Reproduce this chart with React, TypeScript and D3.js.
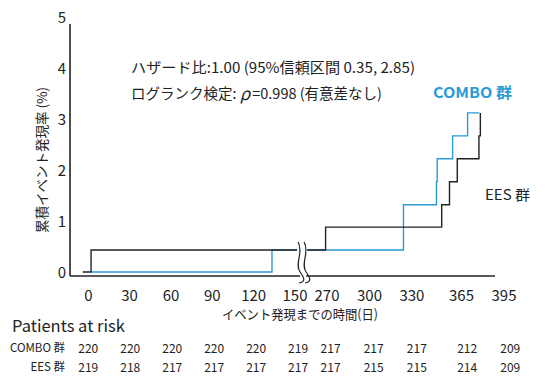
import React from "react";
import * as d3 from "d3";

// ---- data ----
const yTicks = [0, 1, 2, 3, 4, 5];
const leftTicks = [0, 30, 60, 90, 120, 150];
const rightTicks = [270, 300, 330, 365, 395];
const riskDays = [0, 30, 60, 90, 120, 150, 270, 300, 330, 365, 395];
const comboRisk = [220, 220, 220, 220, 220, 219, 217, 217, 217, 212, 209];
const eesRisk = [219, 218, 217, 217, 217, 217, 217, 215, 215, 214, 209];

// cumulative event rate (%) step data: [day, value]
const eesCurve: [number, number][] = [
  [-4, 0], [2, 0.43], [269, 0.88], [351, 1.32], [356.5, 1.77], [362, 2.22], [377.3, 2.67], [378.3, 3.12],
];
const eesEnd = 378.3;
const comboCurve: [number, number][] = [
  [2, 0], [133.3, 0.43], [324, 1.32], [347.3, 1.77], [347.8, 2.22], [358.7, 2.67], [369.3, 3.12],
];
const comboEnd = 377.6;

const BLUE = "#2a9bd5";
const FONT = "'Noto Sans CJK JP', 'Noto Sans', sans-serif";

export default function App() {
  const y = d3.scaleLinear().domain([0, 5]).range([272, 17]);
  const xl = d3.scaleLinear().domain([0, 150]).range([88.3, 295]);
  const xr = d3.scaleLinear().domain([270, 395]).range([327, 504]);
  const breakLeft = 151.5;
  const breakRight = 256;
  const x = (t: number) => (t <= 200 ? xl(t) : xr(t));

  const stepPath = (curve: [number, number][], end: number) => {
    const pts: [number, number][] = [];
    for (let i = 0; i < curve.length; i++) {
      const [t, v] = curve[i];
      if (i > 0) pts.push([t, curve[i - 1][1]]);
      pts.push([t, v]);
    }
    pts.push([end, curve[curve.length - 1][1]]);
    const left: [number, number][] = [];
    const right: [number, number][] = [];
    for (let i = 0; i < pts.length; i++) {
      const [t, v] = pts[i];
      if (t <= breakLeft) left.push([t, v]);
      if (i > 0) {
        const [pt, pv] = pts[i - 1];
        if (pt <= breakLeft && t > breakLeft) left.push([breakLeft, pv]);
        if (pt < breakRight && t >= breakRight) right.push([breakRight, pv]);
      }
      if (t >= breakRight) right.push([t, v]);
    }
    const line = d3
      .line<[number, number]>()
      .x((d) => x(d[0]))
      .y((d) => y(d[1]));
    return [left.length > 1 ? line(left) : "", right.length > 1 ? line(right) : ""].join(" ");
  };

  const axisX0 = 70;
  const axisY = y(0) + 4;
  const axisTop = y(5) + 7;
  const axisRight = xr(395) - 9;
  const bx = (xl(150) + xr(256)) / 2 + 2;

  const wave = (cx: number) =>
    `M${cx - 2},${axisY - 34} C${cx + 4},${axisY - 24} ${cx - 6},${axisY - 12} ${cx},${axisY - 4} S${cx + 4},${axisY + 6} ${cx - 1},${axisY + 7}`;

  const riskX = (d: number) => {
    const px = x(d);
    return 88.3 + (px - 88.3) * 1.015;
  };

  return (
    <svg width={545} height={384} style={{ position: "absolute", left: 0, top: 0, background: "#fff" }} fontFamily={FONT}>
      <rect width={545} height={384} fill="#fff" />
      <path d={stepPath(comboCurve, comboEnd)} fill="none" stroke={BLUE} strokeWidth={1.4} />
      <path d={stepPath(eesCurve, eesEnd)} fill="none" stroke="#222" strokeWidth={1.4} />
      <line x1={axisX0} x2={axisX0} y1={axisTop} y2={axisY} stroke="#222" strokeWidth={1.6} />
      <line x1={axisX0} x2={axisRight} y1={axisY} y2={axisY} stroke="#222" strokeWidth={1.6} />
      <rect x={bx - 3} y={axisY - 34} width={6} height={42} fill="#fff" />
      <path d={wave(bx - 3)} fill="none" stroke="#222" strokeWidth={1.2} />
      <path d={wave(bx + 3)} fill="none" stroke="#222" strokeWidth={1.2} />

      {yTicks.map((v) => (
        <text key={v} x={66} y={y(v) - 1} textAnchor="end" dominantBaseline="central" fontSize={15} fill="#222">
          {v}
        </text>
      ))}
      {leftTicks.map((t) => (
        <text key={"l" + t} x={xl(t)} y={294} textAnchor="middle" dominantBaseline="central" fontSize={15} fill="#222">
          {t}
        </text>
      ))}
      {rightTicks.map((t) => (
        <text key={"r" + t} x={xr(t)} y={294} textAnchor="middle" dominantBaseline="central" fontSize={15} fill="#222">
          {t}
        </text>
      ))}
      <text x={300} y={313} textAnchor="middle" dominantBaseline="central" fontSize={13} fill="#222" textLength={156} lengthAdjust="spacingAndGlyphs">
        イベント発現までの時間(日)
      </text>
      <text
        transform={`translate(41,160) rotate(-90)`}
        textAnchor="middle"
        dominantBaseline="central"
        fontSize={13.5}
        fill="#222"
        textLength={146}
        lengthAdjust="spacingAndGlyphs"
      >
        累積イベント発現率 (%)
      </text>
      <text x={131} y={66} dominantBaseline="central" fontSize={14.5} fill="#222" textLength={284} lengthAdjust="spacingAndGlyphs">
        ハザード比:1.00 (95%信頼区間 0.35, 2.85)
      </text>
      <text x={131} y={92} dominantBaseline="central" fontSize={14.5} fill="#222">
        ログランク検定: <tspan fontStyle="italic" fontSize={17}>ρ</tspan>
        <tspan dx={2}>=0.998 (有意差なし)</tspan>
      </text>
      <text x={433} y={91} dominantBaseline="central" fontSize={15} fontWeight="bold" fill={BLUE} textLength={79} lengthAdjust="spacingAndGlyphs">
        COMBO 群
      </text>
      <text x={485} y={194} dominantBaseline="central" fontSize={14} fill="#222" textLength={45} lengthAdjust="spacingAndGlyphs">
        EES 群
      </text>
      <text x={12} y={325} dominantBaseline="central" fontSize={16.5} fill="#222">
        Patients at risk
      </text>
      <text x={65} y={347} textAnchor="end" dominantBaseline="central" fontSize={11.5} fill="#222">
        COMBO 群
      </text>
      <text x={65} y={366} textAnchor="end" dominantBaseline="central" fontSize={11.5} fill="#222">
        EES 群
      </text>
      {riskDays.map((d, i) => (
        <g key={"r" + d}>
          <text x={riskX(d)} y={347} textAnchor="middle" dominantBaseline="central" fontSize={12} fill="#222">
            {comboRisk[i]}
          </text>
          <text x={riskX(d)} y={366} textAnchor="middle" dominantBaseline="central" fontSize={12} fill="#222">
            {eesRisk[i]}
          </text>
        </g>
      ))}
    </svg>
  );
}
